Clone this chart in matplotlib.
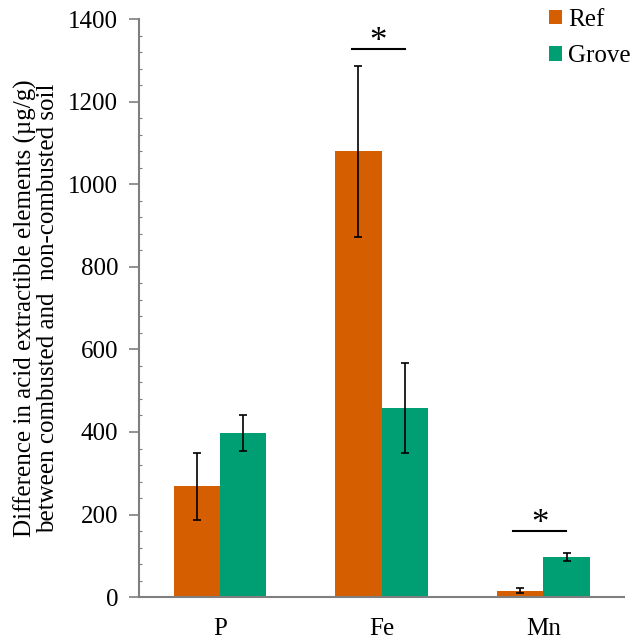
#!/usr/bin/env python
# Acid-extractable element differences, Ref vs Grove, with significance marks

import matplotlib.pyplot as plt
from matplotlib.ticker import MultipleLocator
import numpy as np

plt.rcParams['font.family'] = ['Liberation Serif', 'DejaVu Serif']

# data
elements   = ['P', 'Fe', 'Mn']
ref_mean   = [268, 1080, 16]
ref_err    = [81, 207, 6]
grove_mean = [397, 458, 97]
grove_err  = [43, 108, 10]
sig_pairs  = [1, 2]                 # index of elements marked with *
sig_height = [1328, 159]            # y of the bracket line

col_ref   = '#D55E00'
col_grove = '#009E73'
axcol     = '#7f7f7f'

fig = plt.figure(figsize=(6.35, 6.4), dpi=100)
ax = fig.add_axes([0.219, 0.067, 0.764, 0.903])

x = np.arange(len(elements))
w = 0.287
ax.bar(x - w/2, ref_mean, w, color=col_ref, label='Ref', zorder=2)
ax.bar(x + w/2, grove_mean, w, color=col_grove, label='Grove', zorder=2)
ax.errorbar(x - w/2, ref_mean, yerr=ref_err, fmt='none', ecolor='black',
            elinewidth=1.2, capsize=3, capthick=1.2, zorder=3)
ax.errorbar(x + w/2, grove_mean, yerr=grove_err, fmt='none', ecolor='black',
            elinewidth=1.2, capsize=3, capthick=1.2, zorder=3)

# significance brackets
for i, h in zip(sig_pairs, sig_height):
    ax.plot([i - 0.185, i + 0.142], [h, h], color='black', lw=1.5)
    ax.text(i - 0.02, h - 4, '*', ha='center', va='baseline', fontsize=25)

ax.set_xlim(-0.5, 2.5)
ax.set_ylim(0, 1400)
ax.set_yticks(np.arange(0, 1401, 200))
ax.yaxis.set_minor_locator(MultipleLocator(40))
ax.set_xticks(x)
ax.set_xticklabels(elements, fontsize=18)
ax.tick_params(axis='x', length=0, pad=15)
ax.tick_params(axis='y', labelsize=18, length=7, width=1.2, color=axcol, pad=8)
ax.tick_params(axis='y', which='minor', direction='in', length=2,
               width=0.8, color=axcol)

for s in ['top', 'right']:
    ax.spines[s].set_visible(False)
for s in ['left', 'bottom']:
    ax.spines[s].set_color(axcol)
    ax.spines[s].set_linewidth(1.5)

ax.set_ylabel('Difference in acid extractible elements (\u00b5g/g)\n'
              'between combusted and  non-combusted soil',
              fontsize=18, linespacing=1.0)
ax.yaxis.set_label_coords(-0.165, 0.5)

fig.legend(loc='upper left', bbox_to_anchor=(549/635, 1 - 9/640),
           frameon=False, borderpad=0, borderaxespad=0,
           fontsize=18, handlelength=0.52, handleheight=0.52,
           handletextpad=0.25, labelspacing=0.58)

plt.savefig('out.png', dpi=100)
